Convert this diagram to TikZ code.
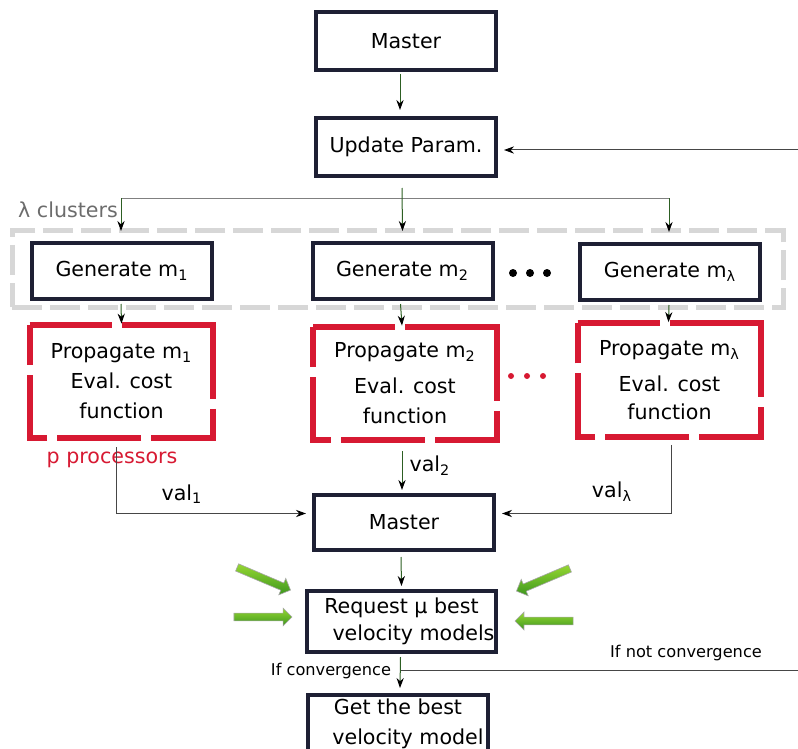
\documentclass[tikz,border=0pt]{standalone}
\usepackage{fontspec}
\setmainfont{DejaVu Sans}
\usetikzlibrary{arrows.meta,shapes.arrows,calc}
\definecolor{navy}{RGB}{30,32,52}
\definecolor{crim}{RGB}{215,25,50}
\definecolor{lgray}{RGB}{215,215,215}
\definecolor{lnk}{RGB}{45,95,35}
\definecolor{dgray}{RGB}{70,70,70}
\definecolor{ga}{RGB}{150,215,50}
\definecolor{gb}{RGB}{60,150,30}
\begin{document}
\begin{tikzpicture}[x=0.5pt,y=-0.5pt,
  font=\fontsize{10.3}{15}\selectfont,
  box/.style={draw=navy,line width=2pt,fill=white,minimum width=90pt,minimum height=29pt,inner sep=1pt,align=center},
  pbox/.style={minimum width=91.5pt,minimum height=56.5pt,inner sep=1pt,align=center},
  pline/.style={draw=crim,line width=3pt,
    dash pattern=on 41pt off 5pt on 83pt off 5pt on 46pt off 5pt on 42pt off 5pt on 40.5pt off 5pt on 18.5pt off 0pt},
  arr/.style={-{Stealth[length=5pt,width=3.6pt,color=black]},line width=0.5pt,draw=lnk},
  barr/.style={-{Stealth[length=5pt,width=3.6pt,color=black]},line width=0.5pt,draw=dgray},
  gline/.style={draw=gray,line width=0.5pt},
  garrow/.style={single arrow,draw=gray!70,line width=0.3pt,top color=ga,bottom color=gb,
    minimum height=29pt,inner sep=1.8pt,single arrow head extend=2.5pt},
  dotb/.style={circle,fill=black,inner sep=0pt,minimum size=4pt},
  dotr/.style={circle,fill=crim,inner sep=0pt,minimum size=3pt},
  small/.style={font=\fontsize{8.1}{10}\selectfont}
]
\useasboundingbox (0,0) rectangle (798,749);
% cluster frame
\node[draw=lgray,line width=2.5pt,dash pattern=on 15pt off 4pt,minimum width=385.5pt,minimum height=38.5pt] (cl) at (397.5,268.5) {};
% main boxes
\node[box] (Master) at (406,41) {Master};
\node[box] (Update) at (406,147) {Update Param.};
\node[box,minimum height=28pt] (Gen1) at (122,271) {Generate m\textsubscript{1}};
\node[box,minimum height=28pt] (Gen2) at (402.5,271) {Generate m\textsubscript{2}};
\node[box,minimum height=28pt] (GenL) at (670,272) {Generate m\textsubscript{λ}};
\node[pbox] (Prop1) at (121.5,381.5) {Propagate m\textsubscript{1}\\Eval. cost\\function};
\node[pbox] (Prop2) at (405,383.5) {Propagate m\textsubscript{2}\\[3pt]Eval. cost\\function};
\node[pbox] (PropL) at (669.5,380) {Propagate m\textsubscript{λ}\\[3pt]Eval. cost\\[-1pt]function};
\foreach \p in {Prop1,Prop2,PropL}
  \draw[pline] (\p.north west) -- (\p.north east) -- (\p.south east) -- (\p.south west) -- cycle;
\node[box,minimum height=27.5pt] (Master2) at (404,522.5) {Master};
\node[box,minimum height=30.5pt,font=\fontsize{10.3}{13.5}\selectfont] (Request) at (401.5,621.5) {Request μ best\\\hspace*{12pt}velocity models};
\node[box,font=\fontsize{10.3}{15}\selectfont] (Get) at (398,724) {Get the best\\\hspace*{10pt}velocity model};
% dots
\node[dotb] (d1) at (513,273) {};
\node[dotb] (d2) at (530,273) {};
\node[dotb] (d3) at (547,273) {};
\node[dotr] (r1) at (511,376) {};
\node[dotr] (r2) at (527,376) {};
\node[dotr] (r3) at (543,376) {};
% labels
\node[text=gray!85!black] (lc) at (68,210) {λ clusters};
\node[text=crim] (pp) at (112,460) {p processors};
\node (v1) at (182,494) {val\textsubscript{1}};
\node (v2) at (430,466) {val\textsubscript{2}};
\node (vl) at (612,492) {val\textsubscript{λ}};
\node[small] (ic) at (331,671) {If convergence};
\node[small] (inc) at (686,653) {If not convergence};
% connectors
\draw[arr] ($(Master.south)+(-6,2)$) -- ($(Update.north)+(-6,-6)$);
\coordinate (bl) at (121,198);
\coordinate (brr) at (669,198);
\draw[gline] (bl) -- (brr);
\draw[arr] ($(Update.south)+(-4,10)$) -- ($(Gen2.north)+(0,-10)$);
\draw[arr] (bl) -- ($(Gen1.north)+(-1,-10)$);
\draw[arr] (brr) -- ($(GenL.north)+(-1,-10)$);
\draw[arr] ($(Gen1.south)+(-1,3)$) -- ($(Prop1.north)+(0,-1)$);
\draw[arr] ($(Gen2.south)+(-2,3)$) -- ($(Prop2.north)+(-3,-1)$);
\draw[arr] ($(GenL.south)+(-1,3)$) -- ($(PropL.north)+(-1,-1)$);
\draw[barr] ($(Prop1.south)+(-5,9)$) |- ($(Master2.west)+(-6,-9)$);
\draw[arr] ($(Prop2.south)+(-3,11)$) -- ($(Master2.north)+(-2,-3)$);
\draw[barr] ($(PropL.south)+(2,8)$) |- ($(Master2.east)+(6,-9)$);
\draw[arr] ($(Master2.south)+(-3,5)$) -- ($(Request.north)+(0,-3)$);
\draw[arr] ($(Request.south)+(-1,3)$) -- ($(Get.north)+(2,-5)$);
\coordinate (fb0) at (401,670);
\coordinate (fb1) at (806,670);
\coordinate (fb2) at (806,150);
\draw[barr] (fb0) -- (fb1) -- (fb2) -- ($(Update.east)+(6,3)$);
% green arrows
\node[garrow,rotate=-23] (g1) at (262,578) {};
\node[garrow] (g2) at (261,617) {};
\node[garrow,rotate=203] (g3) at (545,579) {};
\node[garrow,rotate=180] (g4) at (546,621) {};
\end{tikzpicture}
\end{document}
